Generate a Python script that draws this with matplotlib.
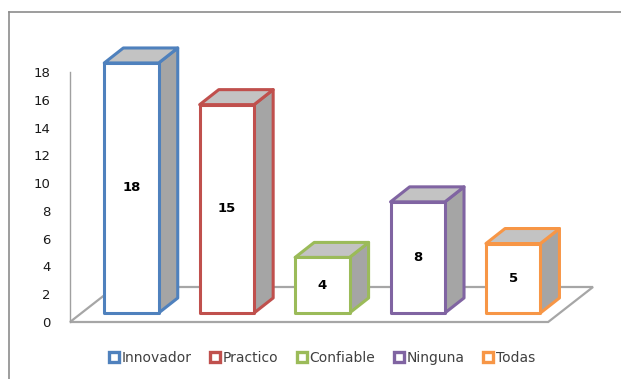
import matplotlib.pyplot as plt
from matplotlib.patches import Polygon
from matplotlib.lines import Line2D

categorias = ["Innovador", "Practico", "Confiable", "Ninguna", "Todas"]
valores = [18, 15, 4, 8, 5]
colores = ["#4F81BD", "#C0504D", "#9BBB59", "#8064A2", "#F79646"]
ticks_y = [0, 2, 4, 6, 8, 10, 12, 14, 16, 18]

# profundidad del piso y de las barras (unidades de datos)
piso_dx, piso_dy = 0.47, 2.52
barra_dx, barra_dy = 0.20, 1.08
lift_x, lift_y = 0.12, 0.65
ancho = 0.57
x_min, x_max = -0.524, 5.03
piso_fin = 4.487

fig = plt.figure(figsize=(6.21, 3.79), dpi=100)
ax = fig.add_axes([70 / 621, 57 / 379, 530 / 621, 250 / 379])
ax.set_xlim(x_min, x_max)
ax.set_ylim(0, 18)

# piso
piso = Polygon([(x_min, 0), (piso_fin, 0),
                (piso_fin + piso_dx, piso_dy), (x_min + piso_dx, piso_dy)],
               closed=True, facecolor="white", edgecolor="#a6a6a6", lw=1.6,
               zorder=1, clip_on=False)
ax.add_patch(piso)

for i, (v, c) in enumerate(zip(valores, colores)):
    x0 = i - ancho / 2 + lift_x
    x1 = i + ancho / 2 + lift_x
    y0 = lift_y
    y1 = lift_y + v
    frente = [(x0, y0), (x1, y0), (x1, y1), (x0, y1)]
    lado = [(x1, y0), (x1 + barra_dx, y0 + barra_dy),
            (x1 + barra_dx, y1 + barra_dy), (x1, y1)]
    techo = [(x0, y1), (x1, y1), (x1 + barra_dx, y1 + barra_dy),
             (x0 + barra_dx, y1 + barra_dy)]
    ax.add_patch(Polygon(lado, closed=True, facecolor="#a5a5a5",
                         edgecolor=c, lw=2.2, joinstyle="round",
                         zorder=3, clip_on=False))
    ax.add_patch(Polygon(techo, closed=True, facecolor="#c3c3c3",
                         edgecolor=c, lw=2.2, joinstyle="round",
                         zorder=3, clip_on=False))
    ax.add_patch(Polygon(frente, closed=True, facecolor="white",
                         edgecolor=c, lw=2.2, joinstyle="round",
                         zorder=4, clip_on=False))
    ax.text((x0 + x1) / 2, (y0 + y1) / 2, str(v), ha="center", va="center",
            fontsize=9.5, fontweight="bold", color="black", zorder=5)

ax.set_yticks(ticks_y)
ax.set_yticklabels([str(t) for t in ticks_y], fontsize=9.5, color="#1a1a1a")
ax.tick_params(axis="y", length=0, pad=14)
ax.set_xticks([])
for s in ["top", "right", "bottom"]:
    ax.spines[s].set_visible(False)
ax.spines["left"].set_color("#a0a0a0")
ax.spines["left"].set_linewidth(1.0)
ax.patch.set_visible(False)

handles = [Line2D([], [], linestyle="none", marker="s", markersize=7.5,
                  markerfacecolor="white", markeredgecolor=c,
                  markeredgewidth=2.4) for c in colores]
fig.legend(handles, categorias, loc="center", bbox_to_anchor=(0.518, 0.055),
           ncol=5, frameon=False, fontsize=10, handlelength=0.8,
           handletextpad=0.15, columnspacing=1.3, labelcolor="#404040")

# marco del grafico
fig.add_artist(Line2D([9 / 621, 9 / 621], [0, 1 - 12 / 379],
                      color="#8c8c8c", lw=1.2))
fig.add_artist(Line2D([9 / 621, 1], [1 - 12 / 379, 1 - 12 / 379],
                      color="#8c8c8c", lw=1.2))

fig.savefig("out.png", dpi=100)
